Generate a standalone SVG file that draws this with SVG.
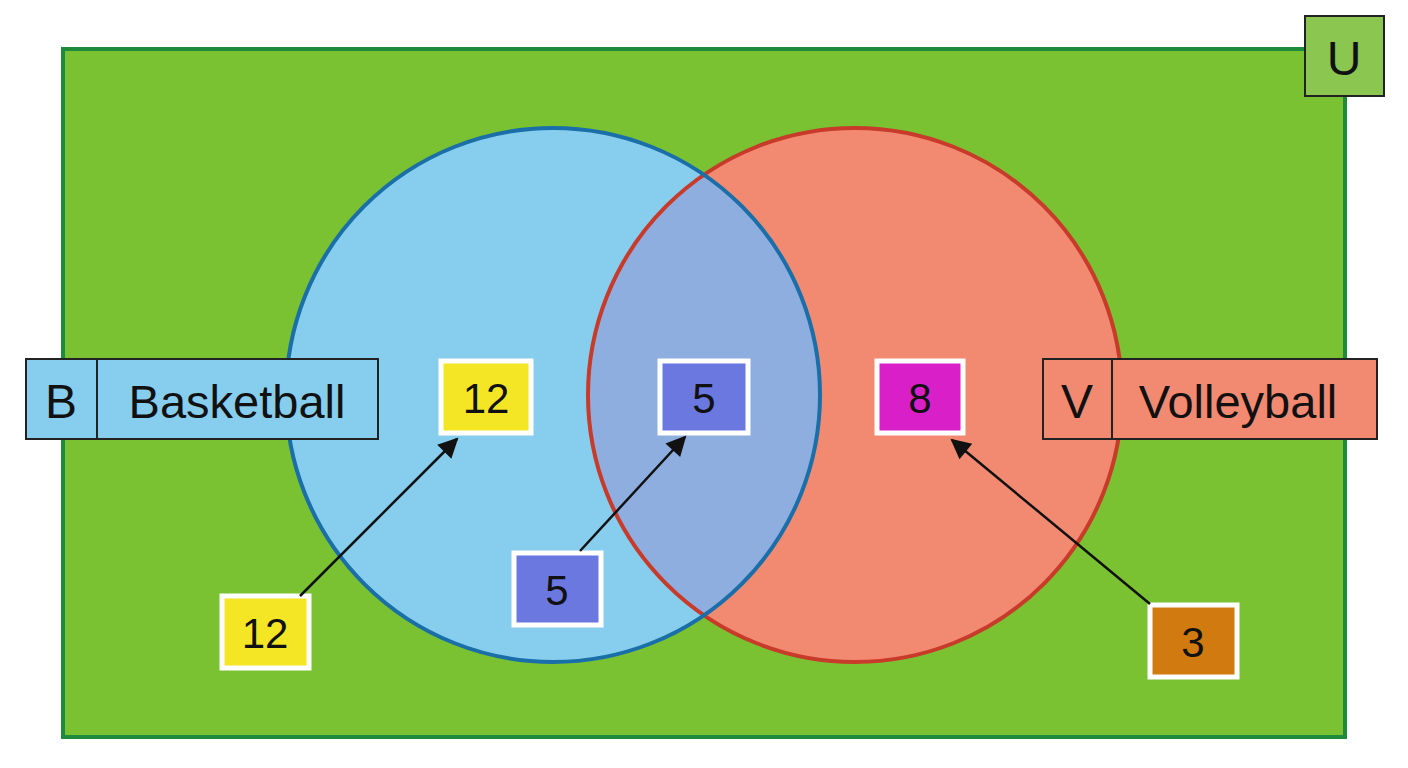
<svg xmlns="http://www.w3.org/2000/svg" width="1408" height="768" viewBox="0 0 1408 768">
<style>
text{font-family:"Liberation Sans",Arial,sans-serif;fill:#111;text-anchor:middle;dominant-baseline:central}
.num{stroke:#fff;stroke-width:5}
.lbl{stroke:#222;stroke-width:2}
.arr{stroke:#111;stroke-width:2.5;fill:none;marker-end:url(#ah)}
</style>
<defs>
<marker id="ah" viewBox="0 0 10 10" refX="9" refY="5" markerWidth="24" markerHeight="20" orient="auto" markerUnits="userSpaceOnUse">
<path d="M0,0L10,5L0,10z" fill="#111"/>
</marker>
<clipPath id="cb"><circle cx="553" cy="395" r="267"/></clipPath>
</defs>
<rect width="1408" height="768" fill="#fff"/>
<g id="universe">
<rect x="63" y="49" width="1282" height="688" fill="#7AC231" stroke="#1E8A3C" stroke-width="4"/>
<rect x="1305" y="16" width="79" height="80" fill="#8BC650" stroke="#222" stroke-width="2"/>
<text x="1344" y="58" font-size="48">U</text>
</g>
<g id="setB"><circle cx="553" cy="395" r="267" fill="#87CEEE"/></g>
<g id="setV"><circle cx="855" cy="395" r="267" fill="#F28A72"/>
<circle cx="855" cy="395" r="267" fill="#8FAEE0" clip-path="url(#cb)"/>
<circle cx="855" cy="395" r="267" fill="none" stroke="#C83A2A" stroke-width="4"/>
<circle cx="553" cy="395" r="267" fill="none" stroke="#1A6FA8" stroke-width="4"/></g>
<g id="labelB">
<rect x="26" y="359" width="352" height="80" fill="#87CEEE" class="lbl"/>
<line x1="97" y1="359" x2="97" y2="439" class="lbl"/>
<text x="61" y="401" font-size="48">B</text>
<text x="237" y="401" font-size="47">Basketball</text>
</g>
<g id="labelV">
<rect x="1043" y="359" width="334" height="80" fill="#F28A72" class="lbl"/>
<line x1="1112" y1="359" x2="1112" y2="439" class="lbl"/>
<text x="1077" y="401" font-size="48">V</text>
<text x="1238" y="401" font-size="47">Volleyball</text>
</g>
<g id="n12a"><rect x="441" y="361" width="90" height="72" fill="#F5E625" class="num"/><text x="486" y="398" font-size="42">12</text></g>
<g id="n5a"><rect x="660" y="361" width="88" height="72" fill="#6B78E0" class="num"/><text x="704" y="398" font-size="42">5</text></g>
<g id="n8"><rect x="877" y="361" width="86" height="72" fill="#D920C8" class="num"/><text x="920" y="398" font-size="42">8</text></g>
<g id="n12b"><rect x="222" y="596" width="87" height="72" fill="#F5E625" class="num"/><text x="265" y="633" font-size="42">12</text></g>
<g id="n5b"><rect x="514" y="553" width="87" height="72" fill="#6B78E0" class="num"/><text x="557" y="590" font-size="42">5</text></g>
<g id="n3"><rect x="1150" y="605" width="87" height="72" fill="#D07A10" class="num"/><text x="1193" y="642" font-size="42">3</text></g>
<g id="connectors">
<path class="arr" d="M300,596L457,439"/>
<path class="arr" d="M580,551L685,437"/>
<path class="arr" d="M1150,604L952,440"/>
</g>
</svg>
